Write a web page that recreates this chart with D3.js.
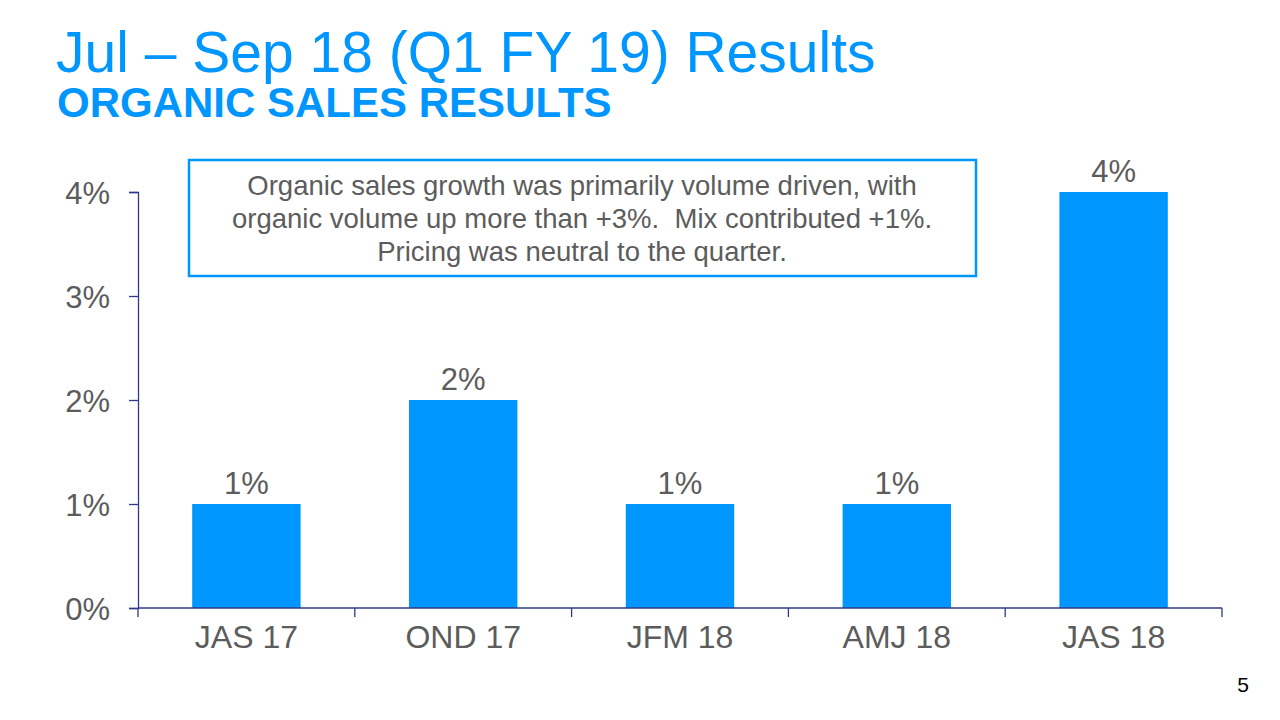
<!DOCTYPE html>
<html><head><meta charset="utf-8">
<script src="https://cdn.jsdelivr.net/npm/d3@7/dist/d3.min.js"></script>
<style>
html,body{margin:0;padding:0;background:#fff;}
svg{display:block;font-family:"Liberation Sans",Arial,Helvetica,sans-serif;}
</style></head>
<body>
<svg id="chart" width="1280" height="720"></svg>
<script>
const categories = ["JAS 17","OND 17","JFM 18","AMJ 18","JAS 18"];
const values = [1, 2, 1, 1, 4];
const valueLabels = ["1%","2%","1%","1%","4%"];
const yTicks = [0, 1, 2, 3, 4];
const yTickLabels = ["0%","1%","2%","3%","4%"];
const titleText = "Jul – Sep 18 (Q1 FY 19) Results";
const subtitleText = "ORGANIC SALES RESULTS";
const noteLines = [
  "Organic sales growth was primarily volume driven, with",
  "organic volume up more than +3%.  Mix contributed +1%.",
  "Pricing was neutral to the quarter."
];
const pageNumber = "5";

(function(){
const blue = "#0096ff";
const gray = "#5c5c5c";
const axisColor = "#2e3a87";

const svg = d3.select("#chart");
const pLeft = 138, pRight = 1222, pTop = 192, pBottom = 608;

const x = d3.scaleBand().domain(categories).range([pLeft, pRight]).paddingInner(0.5).paddingOuter(0.25);
const y = d3.scaleLinear().domain([0, 4]).range([pBottom, pTop]);

// Title
svg.append("text").attr("x", 56).attr("y", 72).attr("fill", blue)
  .attr("font-size", 57).text(titleText);
svg.append("text").attr("x", 57).attr("y", 117).attr("fill", blue)
  .attr("font-size", 42).attr("font-weight", "bold").text(subtitleText);

// Bars
svg.selectAll("rect.bar").data(values).join("rect").attr("class","bar")
  .attr("x", (d,i)=>x(categories[i]))
  .attr("width", x.bandwidth())
  .attr("y", d=>y(d))
  .attr("height", d=>y(0)-y(d))
  .attr("fill", blue);

// Value labels
svg.selectAll("text.val").data(values).join("text").attr("class","val")
  .attr("x", (d,i)=>x(categories[i]) + x.bandwidth()/2)
  .attr("y", d=>y(d) - 10)
  .attr("text-anchor","middle").attr("fill", gray).attr("font-size", 31)
  .text((d,i)=>valueLabels[i]);

// Y axis
const yAxis = svg.append("g").attr("transform", `translate(${pLeft},0)`)
  .call(d3.axisLeft(y).tickValues(yTicks).tickFormat((d,i)=>yTickLabels[i]).tickSize(9).tickPadding(19));
yAxis.select(".domain").attr("stroke", axisColor).attr("stroke-width", 1.3);
yAxis.selectAll(".tick line").attr("stroke", axisColor).attr("stroke-width", 1.3);
yAxis.selectAll(".tick text").attr("fill", gray).attr("font-size", 31)
  .attr("font-family", '"Liberation Sans",Arial,sans-serif').attr("dy","0.36em");

// X axis with boundary ticks
const xg = svg.append("g").attr("transform", `translate(0,${pBottom})`);
xg.append("line").attr("x1", pLeft).attr("x2", pRight).attr("y1",0).attr("y2",0)
  .attr("stroke", axisColor).attr("stroke-width", 1.3);
const boundaries = d3.range(categories.length + 1).map(i => pLeft + i * (pRight-pLeft)/categories.length);
xg.selectAll("line.bt").data(boundaries).join("line").attr("class","bt")
  .attr("x1", d=>d).attr("x2", d=>d).attr("y1", 0).attr("y2", 9)
  .attr("stroke", axisColor).attr("stroke-width", 1.3);
xg.selectAll("text.cat").data(categories).join("text").attr("class","cat")
  .attr("x", d=>x(d)+x.bandwidth()/2).attr("y", 40)
  .attr("text-anchor","middle").attr("fill", gray).attr("font-size", 32)
  .text(d=>d);

// Note box
svg.append("rect").attr("x", 189).attr("y", 160).attr("width", 787).attr("height", 116)
  .attr("fill", "#fff").attr("stroke", blue).attr("stroke-width", 2.5);
svg.selectAll("text.note").data(noteLines).join("text").attr("class","note")
  .attr("x", 582).attr("y", (d,i)=>195 + i*33)
  .attr("text-anchor","middle").attr("fill", gray).attr("font-size", 27.5)
  .style("white-space","pre")
  .text(d=>d);

// Page number
svg.append("text").attr("x", 1249).attr("y", 692).attr("text-anchor","end")
  .attr("fill","#000").attr("font-size", 21).text(pageNumber);
})();
</script>
</body></html>
